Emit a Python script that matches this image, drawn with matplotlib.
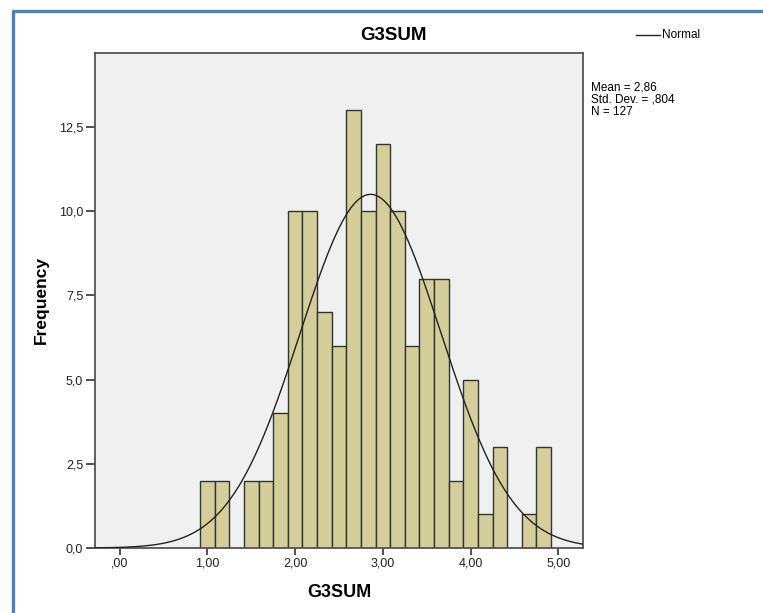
import numpy as np
import matplotlib
matplotlib.use("Agg")
import matplotlib.pyplot as plt
from matplotlib.lines import Line2D

# histogram counts, bins of width 1/6 starting at ~0.917
counts = [2, 2, 0, 2, 2, 4, 10, 10, 7, 6, 13, 10, 12, 10, 6, 8, 8, 2, 5, 1, 3, 0, 1, 3]
bin_start = 11 / 12
bin_width = 1 / 6

mean = 2.86
sd = 0.804
n = 127

xticks = [0, 1, 2, 3, 4, 5]
xtick_labels = [",00", "1,00", "2,00", "3,00", "4,00", "5,00"]
yticks = [0, 2.5, 5, 7.5, 10, 12.5]
ytick_labels = ["0,0", "2,5", "5,0", "7,5", "10,0", "12,5"]

plt.rcParams['font.family'] = ['Liberation Sans', 'DejaVu Sans']

fig = plt.figure(figsize=(7.63, 6.13), dpi=100)
ax = fig.add_axes([95 / 763, 1 - 548 / 613, (583 - 95) / 763, (548 - 53) / 613])
ax.set_facecolor("#F0F0F0")

edges = bin_start + bin_width * np.arange(len(counts))
ax.bar(edges, counts, width=bin_width, align="edge", color="#D4CF9A",
       edgecolor="#333333", linewidth=1.0, zorder=2)

xlim = (-0.28, 5.28)
xs = np.linspace(xlim[0], xlim[1], 400)
ys = n * bin_width / (sd * np.sqrt(2 * np.pi)) * np.exp(-0.5 * ((xs - mean) / sd) ** 2)
ax.plot(xs, ys, color="#222222", linewidth=1.0, zorder=3)

ax.set_xlim(*xlim)
ax.set_ylim(0, 14.7)
ax.set_xticks(xticks)
ax.set_xticklabels(xtick_labels)
ax.set_yticks(yticks)
ax.set_yticklabels(ytick_labels)
ax.tick_params(axis="both", direction="out", width=1.2, color="#333333",
               labelsize=9, labelcolor="#222222", pad=2)
ax.tick_params(axis="x", length=5)
ax.tick_params(axis="y", length=6.5)
for s in ax.spines.values():
    s.set_color("#555555")
    s.set_linewidth(1.3)

ax.set_xlabel("G3SUM", fontsize=13, fontweight="bold", labelpad=10)
ax.set_ylabel("Frequency", fontsize=12.5, fontweight="bold", labelpad=7)

fig.text(393 / 763, 1 - 36 / 613, "G3SUM", fontsize=13.5, fontweight="bold",
         ha="center", va="center")

# legend
fig.add_artist(Line2D([636 / 763, 660 / 763], [1 - 35 / 613, 1 - 35 / 613],
                      transform=fig.transFigure, color="#222222", linewidth=1.0))
fig.text(662 / 763, 1 - 35 / 613, "Normal", fontsize=8.5, ha="left", va="center")

fig.text(591 / 763, 1 - 82 / 613, "Mean = 2,86\nStd. Dev. = ,804\nN = 127",
         fontsize=8.5, ha="left", va="top", linespacing=1.0)

# blue selection frame
blue = "#4F81BD"
fig.add_artist(Line2D([12 / 763, 1], [1 - 10.5 / 613, 1 - 10.5 / 613],
                      transform=fig.transFigure, color=blue, linewidth=2.4,
                      solid_capstyle="butt"))
fig.add_artist(Line2D([12.5 / 763, 12.5 / 763], [0, 1 - 9.5 / 613],
                      transform=fig.transFigure, color=blue, linewidth=2.4,
                      solid_capstyle="butt"))

fig.savefig("out.png", dpi=100)
